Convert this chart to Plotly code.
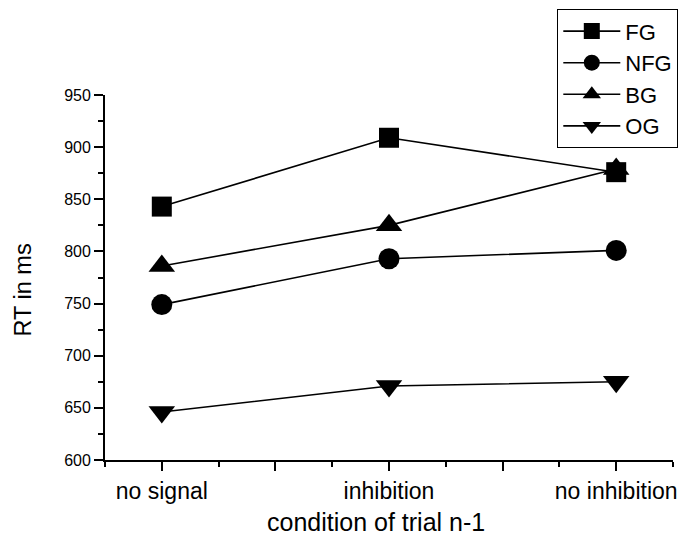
import plotly.graph_objects as go

categories = ["no signal", "inhibition", "no inhibition"]
fg = [843, 909, 876]
nfg = [749, 793, 801]
bg = [786, 825, 879]
og = [646, 671, 675]

x_title = "condition of trial n-1"
y_title = "RT in ms"

xpos = [i + 1 for i in range(len(categories))]
FONT = "Liberation Sans, Arial, Helvetica, sans-serif"

series = [
    ("FG", fg, "square", 20),
    ("NFG", nfg, "circle", 21),
    ("BG", bg, "triangle-up", 23),
    ("OG", og, "triangle-down", 23),
]

fig = go.Figure()
for name, vals, sym, size in series:
    fig.add_trace(go.Scatter(
        x=xpos, y=vals, name=name, mode="lines+markers",
        line=dict(color="black", width=1.6),
        marker=dict(symbol=sym, size=size, color="black"),
    ))

major = [1, 1.5, 2, 2.5, 3]
major_text = [categories[0], "", categories[1], "", categories[2]]
minor = [0.75, 1.25, 1.75, 2.25, 2.75, 3.25]

fig.update_layout(
    width=681, height=541,
    margin=dict(l=105, r=8, t=95, b=81, autoexpand=False),
    paper_bgcolor="white", plot_bgcolor="white",
    font=dict(family=FONT, color="black"),
    showlegend=True,
    legend=dict(
        x=0.7963, y=1.2348, xanchor="left", yanchor="top",
        bordercolor="black", borderwidth=1, bgcolor="white",
        font=dict(size=22, family=FONT), itemwidth=57,
        tracegroupgap=0, itemsizing="trace",
    ),
    xaxis=dict(
        range=[0.75, 3.25], tickmode="array", tickvals=major, ticktext=major_text,
        ticks="outside", ticklen=9, tickwidth=1.5, tickcolor="black",
        showline=True, linecolor="black", linewidth=1.8, showgrid=False, zeroline=False,
        automargin=False,
        tickfont=dict(size=23, family=FONT),
        minor=dict(tickmode="array", tickvals=minor, ticks="outside", ticklen=5,
                   tickwidth=1.5, tickcolor="black", showgrid=False),
    ),
    yaxis=dict(
        range=[600, 950], tick0=600, dtick=50,
        ticks="outside", ticklen=9, tickwidth=1.5, tickcolor="black",
        showline=True, linecolor="black", linewidth=1.8, showgrid=False, zeroline=False,
        automargin=False,
        tickfont=dict(size=16, family=FONT),
        minor=dict(dtick=25, ticks="outside", ticklen=5, tickwidth=1.5,
                   tickcolor="black", showgrid=False),
    ),
    annotations=[
        dict(text=x_title, xref="paper", yref="paper", x=0.4768, y=-0.1699,
             xanchor="center", yanchor="middle", showarrow=False,
             font=dict(size=25, family=FONT)),
        dict(text=y_title, xref="paper", yref="paper", x=-0.1452, y=0.4658,
             xanchor="center", yanchor="middle", showarrow=False, textangle=-90,
             font=dict(size=23.5, family=FONT)),
    ],
)

fig.write_html(
    "out.html",
    config={"displayModeBar": False},
    post_script="document.body.style.margin='0';document.body.style.overflow='hidden';",
)
